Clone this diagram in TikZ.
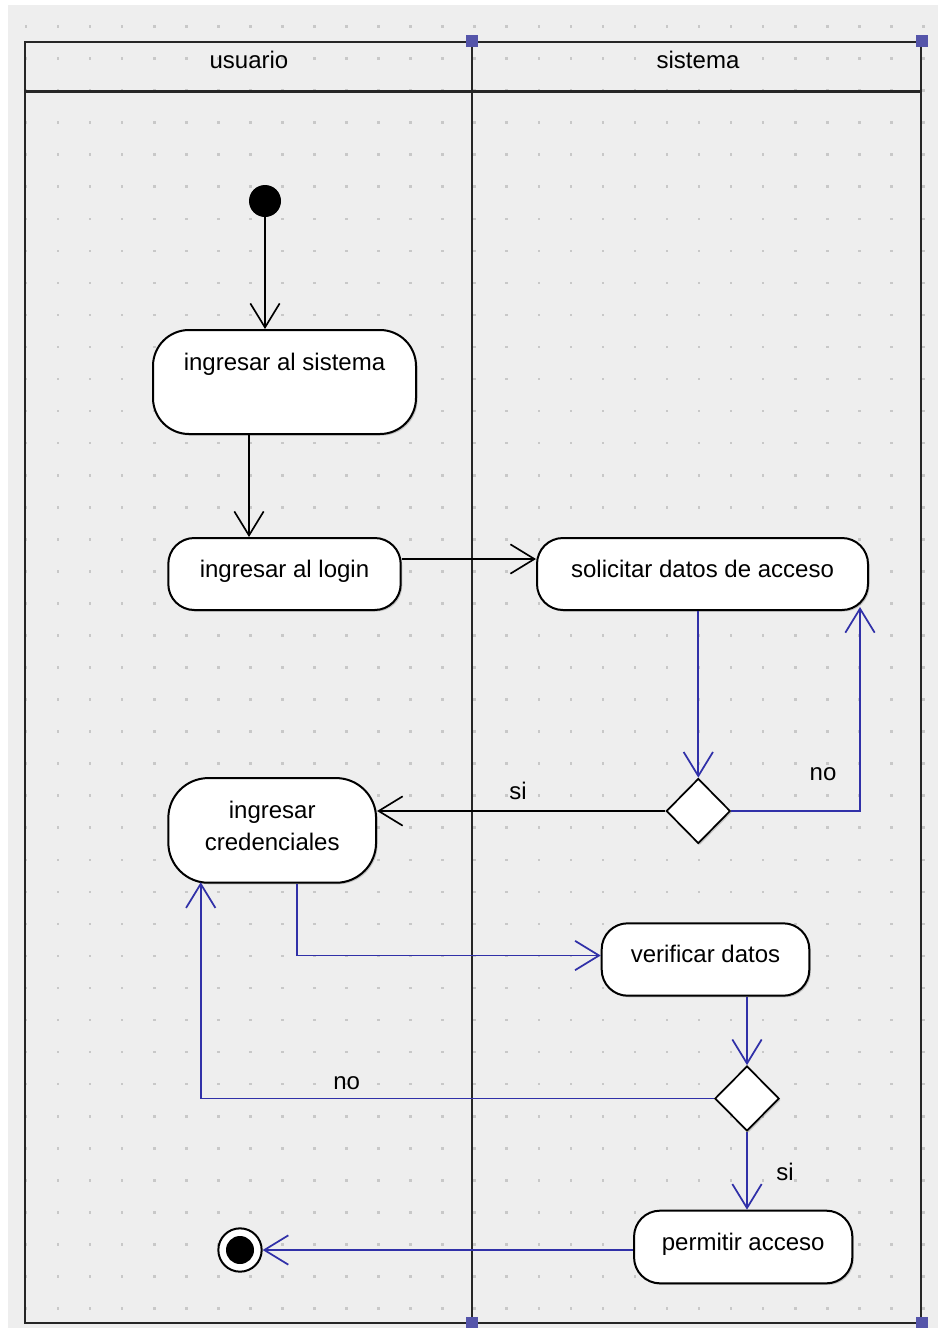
\documentclass[tikz,border=0pt]{standalone}
\usepackage{fontspec}
\setmainfont{Liberation Sans}
\usetikzlibrary{shapes.geometric,arrows.meta,calc,shadows}

\definecolor{canvas}{HTML}{EEEEEE}
\definecolor{flowblue}{RGB}{48,48,168}
\definecolor{handle}{RGB}{85,85,170}
\definecolor{griddot}{HTML}{C8C8C8}

\begin{document}
\begin{tikzpicture}[x=0.75pt,y=-0.75pt,
  every node/.style={font=\fontsize{18}{24}\selectfont},
  act/.style={draw=black,line width=1.5pt,fill=white,rounded corners=19.5pt,inner sep=0pt,
    drop shadow={shadow xshift=1.2pt,shadow yshift=-1.2pt,fill=black,opacity=0.18}},
  oneline/.style={text height=11pt,text depth=6pt},
  dec/.style={diamond,draw=black,line width=1.3pt,fill=white,inner sep=0pt,
    drop shadow={shadow xshift=1.2pt,shadow yshift=-1.2pt,fill=black,opacity=0.18}},
  lbl/.style={anchor=base,inner sep=0pt},
  blk/.style={draw=black,line width=1.25pt,-{Straight Barb[length=18pt,width=22pt]}},
  blu/.style={draw=flowblue,line width=1.3pt,-{Straight Barb[length=18pt,width=22pt]}},
  frame/.style={draw=black!85,line width=1.6pt}
]
\useasboundingbox (0,0) rectangle (938,1328);

% canvas and dotted grid
\fill[white] (0,0) rectangle (938,1328);
\fill[canvas] (8,5) rectangle (938,1328);
\foreach \i in {0,...,28}
  \foreach \j in {0,...,40}
    \fill[griddot] ({26+32.05*\i-1.3},{26.5+32.05*\j-1.3}) rectangle +(2.6,2.6);

% swimlane frame
\draw[frame] (25,42) rectangle (921,1323);
\draw[frame] (25,91.5) -- (921,91.5);
\draw[frame] (472,42) -- (472,1323);
\foreach \hx/\hy in {472/41,922/41,472/1323,922/1323}
  \fill[handle] (\hx-6,\hy-6) rectangle (\hx+6,\hy+6);

\node[lbl] (laneU) at (249,68) {usuario};
\node[lbl] (laneS) at (698,68) {sistema};

% activities and decisions
\node[circle,fill=black,minimum size=24pt,inner sep=0pt] (start) at (265,201) {};
\node[act,minimum width=197.25pt,minimum height=78pt,rounded corners=27pt,
      text height=12pt,text depth=30pt] (sis) at (284.5,382) {ingresar al sistema};
\node[act,oneline,minimum width=174.3pt,minimum height=54pt] (login) at (284.5,574) {ingresar al login};
\node[act,oneline,minimum width=248.25pt,minimum height=54pt] (sol) at (702.5,574) {solicitar datos de acceso};
\node[dec,minimum width=48pt,minimum height=48.75pt] (d1) at (698.3,811) {};
\node[act,align=center,minimum width=155.8pt,minimum height=78.5pt,rounded corners=30pt,
      text depth=7.5pt] (cred) at (272.2,830.4) {ingresar\\credenciales};
\node[act,oneline,minimum width=155.7pt,minimum height=54.3pt] (ver) at (705.5,959.5) {verificar datos};
\node[dec,minimum width=48.2pt,minimum height=48.75pt] (d2) at (747,1098.5) {};
\node[act,oneline,minimum width=163.7pt,minimum height=54.5pt] (per) at (743.2,1247) {permitir acceso};
\node[circle,draw=black,line width=1.5pt,fill=white,minimum size=32.5pt,inner sep=0pt] (final) at (240,1250) {};
\node[circle,fill=black,minimum size=21pt,inner sep=0pt] (finalcore) at (final) {};

% transitions
\draw[blk] (start) -- (start |- sis.north);
\draw[blk] ($(sis.south)+(-35.5,0)$) -- ($(login.north)+(-35.5,0)$);
\draw[blk] ($(login.east)+(0,-15)$) -- ($(sol.west)+(0,-15)$);
\draw[blu] (d1 |- sol.south) -- (d1.north);
\draw[blu] (d1.east) -| ($(sol.south east)+(-9,-4)$);
\node[lbl] (no1) at (823,780) {no};
\draw[blk] (d1.west) -- (d1.west -| cred.east);
\node[lbl] (si1) at (518,799) {si};
\draw[blu] ($(cred.south)+(24.5,0)$) |- ($(ver.west)+(0,-4)$);
\draw[blu] (d2 |- ver.south) -- (d2.north);
\draw[blu] (d2.west) -| ($(cred.south west)+(33.4,-1.5)$);
\node[lbl] (no2) at (346.7,1089) {no};
\draw[blu] (d2.south) -- (d2.south |- per.north);
\node[lbl] (si2) at (785,1180.7) {si};
\draw[blu] (per.west |- final) -- (final);
\end{tikzpicture}
\end{document}
